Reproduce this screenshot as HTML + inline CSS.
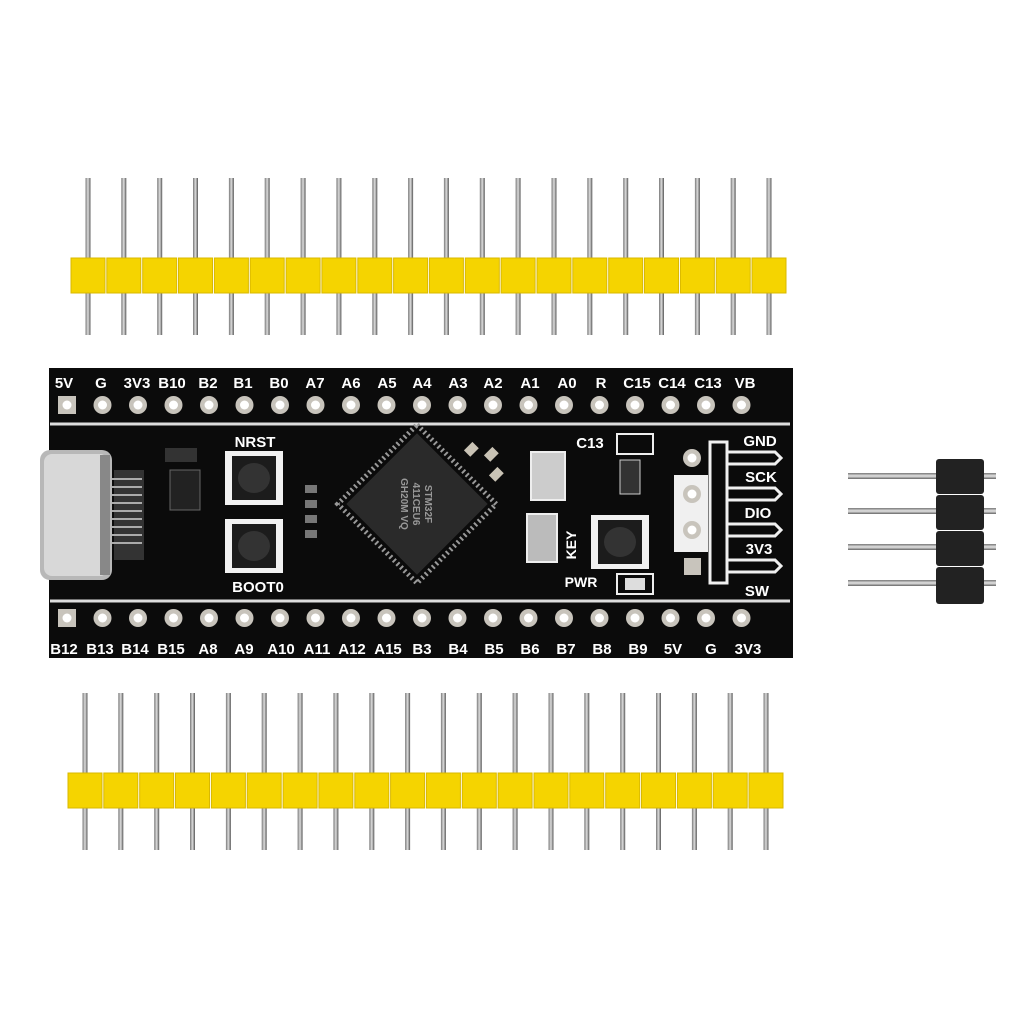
<!DOCTYPE html>
<html><head><meta charset="utf-8"><style>
html,body{margin:0;padding:0;background:#fff;width:1024px;height:1024px;overflow:hidden}
svg{display:block}
text{font-family:"Liberation Sans",sans-serif;font-weight:bold;fill:#fff}
</style></head><body>
<svg width="1024" height="1024" viewBox="0 0 1024 1024" xmlns="http://www.w3.org/2000/svg">
<defs>
<linearGradient id="pin" x1="0" x2="1" y1="0" y2="0">
<stop offset="0" stop-color="#777"/><stop offset="0.5" stop-color="#ddd"/><stop offset="1" stop-color="#555"/></linearGradient>
<linearGradient id="hpin" x1="0" x2="0" y1="0" y2="1">
<stop offset="0" stop-color="#777"/><stop offset="0.5" stop-color="#e5e5e5"/><stop offset="1" stop-color="#666"/></linearGradient>
<g id="tp"><rect x="-2.5" y="0" width="5" height="157" fill="url(#pin)"/><rect x="-17" y="80" width="34" height="35" fill="#f5d400" stroke="#d9b800" stroke-width="1"/></g>
<g id="hole"><circle r="9" fill="#c8c4bc"/><circle r="4.5" fill="#fff"/></g>
<g id="bt"><rect x="-29" y="-27" width="58" height="54" fill="#f2f2f2"/><rect x="-22" y="-22" width="44" height="44" fill="#1c1c1c"/><ellipse rx="16" ry="15" fill="#333"/></g>
</defs>

<!-- top header: pins x 88..769 -->
<g transform="translate(0,178)">
<use href="#tp" x="88"/><use href="#tp" x="123.8"/><use href="#tp" x="159.7"/><use href="#tp" x="195.5"/><use href="#tp" x="231.4"/><use href="#tp" x="267.2"/><use href="#tp" x="303.1"/><use href="#tp" x="338.9"/><use href="#tp" x="374.8"/><use href="#tp" x="410.6"/><use href="#tp" x="446.4"/><use href="#tp" x="482.3"/><use href="#tp" x="518.1"/><use href="#tp" x="554"/><use href="#tp" x="589.8"/><use href="#tp" x="625.7"/><use href="#tp" x="661.5"/><use href="#tp" x="697.4"/><use href="#tp" x="733.2"/><use href="#tp" x="769"/>
</g>
<!-- bottom header -->
<g transform="translate(-2,693) scale(1,1)">
<use href="#tp" x="87"/><use href="#tp" x="122.8"/><use href="#tp" x="158.7"/><use href="#tp" x="194.5"/><use href="#tp" x="230.4"/><use href="#tp" x="266.2"/><use href="#tp" x="302.1"/><use href="#tp" x="337.9"/><use href="#tp" x="373.8"/><use href="#tp" x="409.6"/><use href="#tp" x="445.4"/><use href="#tp" x="481.3"/><use href="#tp" x="517.1"/><use href="#tp" x="553"/><use href="#tp" x="588.8"/><use href="#tp" x="624.7"/><use href="#tp" x="660.5"/><use href="#tp" x="696.4"/><use href="#tp" x="732.2"/><use href="#tp" x="768"/>
</g>
<!-- SWD header -->
<g>
<rect x="848" y="473" width="148" height="6" fill="url(#hpin)"/>
<rect x="848" y="508" width="148" height="6" fill="url(#hpin)"/>
<rect x="848" y="544" width="148" height="6" fill="url(#hpin)"/>
<rect x="848" y="580" width="148" height="6" fill="url(#hpin)"/>
<rect x="936" y="459" width="48" height="35" rx="3" fill="#222"/>
<rect x="936" y="495" width="48" height="35" rx="3" fill="#222"/>
<rect x="936" y="531" width="48" height="35" rx="3" fill="#222"/>
<rect x="936" y="567" width="48" height="37" rx="3" fill="#222"/>
</g>

<!-- board -->
<rect x="49" y="368" width="744" height="290" fill="#0b0b0b"/>
<line x1="50" y1="424" x2="790" y2="424" stroke="#ddd" stroke-width="3"/>
<line x1="50" y1="601" x2="790" y2="601" stroke="#ddd" stroke-width="3"/>

<!-- top holes -->
<g transform="translate(0,405)">
<rect x="58" y="-9" width="18" height="18" fill="#c8c4bc"/><circle cx="67" r="4.5" fill="#fff"/>
<use href="#hole" x="102.5"/><use href="#hole" x="138"/><use href="#hole" x="173.5"/><use href="#hole" x="209"/><use href="#hole" x="244.5"/><use href="#hole" x="280"/><use href="#hole" x="315.5"/><use href="#hole" x="351"/><use href="#hole" x="386.5"/><use href="#hole" x="422"/><use href="#hole" x="457.5"/><use href="#hole" x="493"/><use href="#hole" x="528.5"/><use href="#hole" x="564"/><use href="#hole" x="599.5"/><use href="#hole" x="635"/><use href="#hole" x="670.5"/><use href="#hole" x="706"/><use href="#hole" x="741.5"/>
</g>
<g transform="translate(0,618)">
<rect x="58" y="-9" width="18" height="18" fill="#c8c4bc"/><circle cx="67" r="4.5" fill="#fff"/>
<use href="#hole" x="102.5"/><use href="#hole" x="138"/><use href="#hole" x="173.5"/><use href="#hole" x="209"/><use href="#hole" x="244.5"/><use href="#hole" x="280"/><use href="#hole" x="315.5"/><use href="#hole" x="351"/><use href="#hole" x="386.5"/><use href="#hole" x="422"/><use href="#hole" x="457.5"/><use href="#hole" x="493"/><use href="#hole" x="528.5"/><use href="#hole" x="564"/><use href="#hole" x="599.5"/><use href="#hole" x="635"/><use href="#hole" x="670.5"/><use href="#hole" x="706"/><use href="#hole" x="741.5"/>
</g>

<g font-size="15" text-anchor="middle">
<text x="64" y="388">5V</text><text x="101" y="388">G</text><text x="137" y="388">3V3</text><text x="172" y="388">B10</text><text x="208" y="388">B2</text><text x="243" y="388">B1</text><text x="279" y="388">B0</text><text x="315" y="388">A7</text><text x="351" y="388">A6</text><text x="387" y="388">A5</text><text x="422" y="388">A4</text><text x="458" y="388">A3</text><text x="493" y="388">A2</text><text x="530" y="388">A1</text><text x="567" y="388">A0</text><text x="601" y="388">R</text><text x="637" y="388">C15</text><text x="672" y="388">C14</text><text x="708" y="388">C13</text><text x="745" y="388">VB</text>
<text x="64" y="654">B12</text><text x="100" y="654">B13</text><text x="135" y="654">B14</text><text x="171" y="654">B15</text><text x="208" y="654">A8</text><text x="244" y="654">A9</text><text x="281" y="654">A10</text><text x="317" y="654">A11</text><text x="352" y="654">A12</text><text x="388" y="654">A15</text><text x="422" y="654">B3</text><text x="458" y="654">B4</text><text x="494" y="654">B5</text><text x="530" y="654">B6</text><text x="566" y="654">B7</text><text x="602" y="654">B8</text><text x="638" y="654">B9</text><text x="673" y="654">5V</text><text x="711" y="654">G</text><text x="748" y="654">3V3</text>
</g>

<!-- USB-C -->
<rect x="40" y="450" width="72" height="130" rx="10" fill="#b8b8b8"/>
<rect x="44" y="454" width="64" height="122" rx="8" fill="#d8d8d8"/>
<rect x="100" y="455" width="10" height="120" fill="#888"/>
<rect x="114" y="470" width="30" height="90" fill="#333"/>
<g fill="#aaa"><rect x="112" y="478" width="30" height="2"/><rect x="112" y="486" width="30" height="2"/><rect x="112" y="494" width="30" height="2"/><rect x="112" y="502" width="30" height="2"/><rect x="112" y="510" width="30" height="2"/><rect x="112" y="518" width="30" height="2"/><rect x="112" y="526" width="30" height="2"/><rect x="112" y="534" width="30" height="2"/><rect x="112" y="542" width="30" height="2"/></g>
<rect x="165" y="448" width="32" height="14" fill="#333"/>
<rect x="170" y="470" width="30" height="40" fill="#222" stroke="#666"/>

<!-- buttons -->
<text x="255" y="447" font-size="15" text-anchor="middle">NRST</text>
<use href="#bt" x="254" y="478"/>
<use href="#bt" x="254" y="546"/>
<text x="258" y="592" font-size="15" text-anchor="middle">BOOT0</text>
<g fill="#777"><rect x="305" y="485" width="12" height="8"/><rect x="305" y="500" width="12" height="8"/><rect x="305" y="515" width="12" height="8"/><rect x="305" y="530" width="12" height="8"/></g>

<!-- MCU -->
<g transform="translate(417,504) rotate(45)">
<rect x="-56" y="-56" width="112" height="112" fill="none" stroke="#999" stroke-width="5" stroke-dasharray="2 3"/>
<rect x="-50" y="-50" width="100" height="100" fill="#2a2a2a"/>
<g transform="rotate(45)" font-size="10" fill="#888"><text x="0" y="-8" text-anchor="middle" style="fill:#999">STM32F</text><text x="0" y="4" text-anchor="middle" style="fill:#999">411CEU6</text><text x="0" y="16" text-anchor="middle" style="fill:#999">GH20M VQ</text></g>
</g>
<g fill="#c9c3b5"><rect x="465" y="445" width="12" height="9" transform="rotate(-45 471 449)"/><rect x="485" y="450" width="12" height="9" transform="rotate(-45 491 454)"/><rect x="490" y="470" width="12" height="9" transform="rotate(-45 496 474)"/></g>

<!-- crystals -->
<rect x="531" y="452" width="34" height="48" fill="#ccc" stroke="#eee" stroke-width="2"/>
<rect x="527" y="514" width="30" height="48" fill="#bbb" stroke="#eee" stroke-width="2"/>
<text x="590" y="448" font-size="15" text-anchor="middle">C13</text>
<rect x="617" y="434" width="36" height="20" fill="none" stroke="#eee" stroke-width="2"/>
<rect x="620" y="460" width="20" height="34" fill="#333" stroke="#ccc"/>
<text transform="translate(576,545) rotate(-90)" font-size="14" text-anchor="middle">KEY</text>
<use href="#bt" x="620" y="542"/>
<text x="581" y="587" font-size="14" text-anchor="middle">PWR</text>
<rect x="617" y="574" width="36" height="20" fill="none" stroke="#eee" stroke-width="2"/>
<rect x="625" y="578" width="20" height="12" fill="#ddd"/>

<!-- SWD -->
<rect x="674" y="475" width="34" height="77" fill="#f0f0f0"/>
<use href="#hole" x="692" y="458"/><use href="#hole" x="692" y="494"/><use href="#hole" x="692" y="530"/>
<rect x="684" y="558" width="17" height="17" fill="#c8c4bc"/>
<rect x="710" y="442" width="17" height="141" fill="none" stroke="#f0f0f0" stroke-width="3"/>
<g fill="none" stroke="#f0f0f0" stroke-width="3">
<path d="M727 452 H775 L781 458 L775 464 H727"/>
<path d="M727 488 H775 L781 494 L775 500 H727"/>
<path d="M727 524 H775 L781 530 L775 536 H727"/>
<path d="M727 560 H775 L781 566 L775 572 H727"/>
</g>
<g font-size="15" text-anchor="middle">
<text x="760" y="446">GND</text><text x="761" y="482">SCK</text><text x="758" y="518">DIO</text><text x="759" y="554">3V3</text><text x="757" y="596">SW</text>
</g>
</svg>
</body></html>
